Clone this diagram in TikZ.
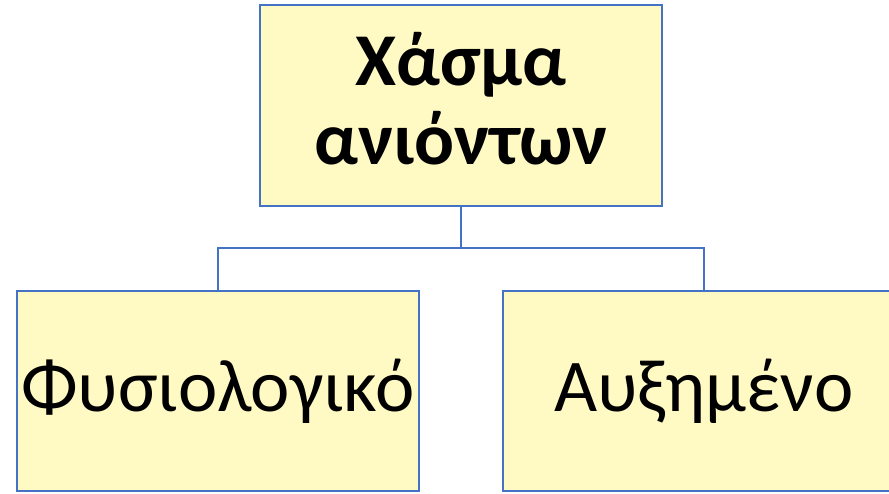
\documentclass[tikz,border=0pt]{standalone}
\usepackage{fontspec}
\setmainfont{Carlito}
\definecolor{boxfill}{RGB}{255,250,196}
\definecolor{boxline}{RGB}{68,114,196}
\tikzset{
  box/.style={draw=boxline, line width=2.2pt, fill=boxfill, inner sep=0pt, align=center},
  conn/.style={draw=boxline, line width=2.2pt},
  bigtext/.style={font=\fontsize{74.5}{79}\selectfont, align=center, inner sep=0pt}
}
\begin{document}
\begin{tikzpicture}[x=1pt,y=-1pt]
\useasboundingbox (0,0) rectangle (889,493);
\begin{scope}
\clip (0,0) rectangle (889,493);
\node[box, minimum width=402pt, minimum height=201pt] (top) at (461,105.5) {};
\node[bigtext, font=\fontsize{74.5}{79}\selectfont\bfseries] (toptext) at ([yshift=7pt]top.center) {Χάσμα\\ανιόντων};
\node[box, minimum width=402pt, minimum height=200pt, bigtext] (left) at (218,391) {Φυσιολογικό};
\node[box, minimum width=402pt, minimum height=200pt, bigtext] (right) at (704,391) {Αυξημένο};
\end{scope}
\coordinate (mid) at (461,248);
\draw[conn] (top.south) -- (mid);
\draw[conn] (left.north) |- (mid) -| (right.north);
\end{tikzpicture}
\end{document}
